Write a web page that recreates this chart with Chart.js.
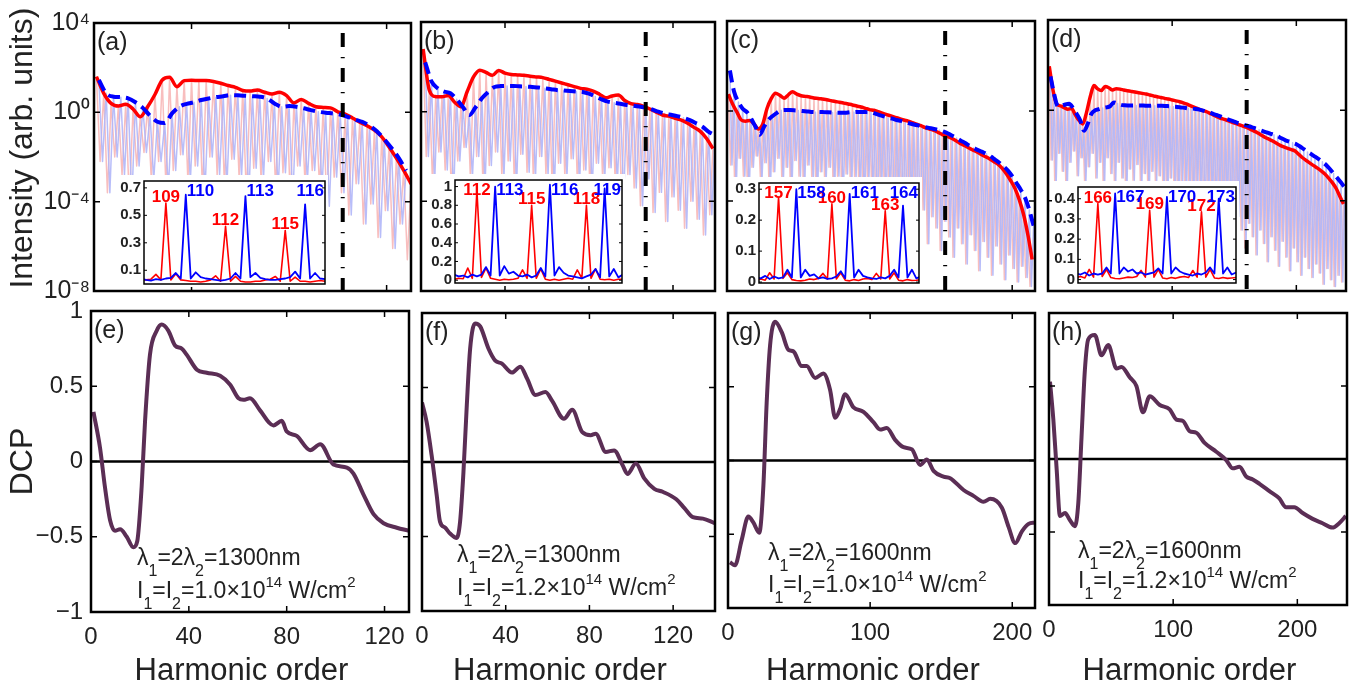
<!DOCTYPE html>
<html>
<head>
<meta charset="utf-8">
<title>HHG spectra and DCP</title>
<script src="https://cdn.jsdelivr.net/npm/chart.js@4.4.1/dist/chart.umd.min.js"></script>
<style>
  html, body { margin: 0; padding: 0; background: #fff; }
  body { position: relative; width: 1355px; height: 690px; overflow: hidden; }
  canvas { position: absolute; }
</style>
</head>
<body>
<script>
Chart.defaults.font.family = '"Liberation Sans", Arial, Helvetica, sans-serif';
Chart.defaults.color = '#222';

// ---- axes ----
const orderMax = [130, 140, 216, 240];
const orderTicks = [[0, 40, 80, 120], [0, 40, 80, 120], [0, 100, 200], [0, 100, 200]];
const intensityTicks = [1e-8, 1e-4, 1, 1e4];
const dcpTicks = [-1, -0.5, 0, 0.5, 1];

// cut-off order marked by the dash-dot line in (a)-(d)
const cutoffOrders = [102, 107, 153, 160];

// ---- spectra, log10 of the yield ----
// red harmonics sit at orders 1,4,7,... and blue ones at 2,5,8,...
// the floor arrays hold the level reached between neighbouring harmonics
const redA = [1.6, 0.85, 0.4, 0.28, 0.36, 0.15, -0.2, 0.25, 0.8, 1.45,
  1.57, 1.15, 1.42, 1.44, 1.42, 1.42, 1.38, 1.3, 1.2, 1.12,
  0.98, 0.95, 1.0, 0.9, 0.82, 0.9, 0.75, 0.42, 0.58, 0.4,
  0.25, 0.22, 0.2, 0.02, -0.08, -0.25, -0.44, -0.6, -0.8, -1.1,
  -1.55, -2.05, -2.6, -3.2];
const blueA = [1.45, 0.85, 0.7, 0.68, 0.63, 0.45, 0.2, -0.15, -0.42, -0.48,
  -0.05, 0.25, 0.38, 0.45, 0.55, 0.62, 0.68, 0.72, 0.77, 0.76,
  0.74, 0.72, 0.7, 0.62, 0.4, 0.25, 0.28, 0.25, 0.18, 0.1,
  0.03, -0.02, -0.05, -0.1, -0.2, -0.32, -0.43, -0.6, -0.85, -1.2,
  -1.6, -2.05, -2.6];
const floorA = [-2.2, -3.6, -2.0, -2.8, -4.0, -2.4, -1.8, -3.0, -2.2, -3.4,
  -2.6, -1.9, -3.1, -2.4, -3.6, -2.0, -2.8, -3.3, -2.1, -2.9,
  -3.8, -2.5, -3.0, -2.2, -3.5, -2.7, -3.9, -2.4, -3.1, -2.6,
  -3.4, -4.2, -2.9, -3.6, -4.6, -3.2, -5.0, -4.1, -5.6, -4.4,
  -6.1, -5.0, -6.6, -7.2];

const redB = [2.8, 0.95, 0.67, 0.66, 0.72, 0.42, 0.22, 0.9, 1.55, 1.85,
  1.75, 1.62, 1.84, 1.72, 1.66, 1.64, 1.62, 1.58, 1.55, 1.52,
  1.44, 1.36, 1.28, 1.2, 1.12, 1.04, 1.0, 0.92, 0.78, 0.62,
  0.7, 0.74, 0.5, 0.36, 0.32, 0.24, 0.12, -0.02, -0.15, -0.2,
  -0.3, -0.38, -0.52, -0.7, -0.88, -1.2, -1.65];
const blueB = [2.2, 1.35, 1.04, 0.9, 0.82, 0.55, 0.2, -0.15, 0.2, 0.6,
  0.88, 1.1, 1.14, 1.15, 1.15, 1.13, 1.12, 1.1, 1.08, 1.04,
  1.0, 0.96, 0.94, 0.92, 0.9, 0.88, 0.8, 0.68, 0.55, 0.45,
  0.4, 0.35, 0.3, 0.27, 0.23, 0.18, 0.1, 0.0, -0.08, -0.14,
  -0.2, -0.27, -0.38, -0.52, -0.67, -0.9, -1.05];
const floorB = [-2.0, -3.2, -1.8, -2.6, -3.8, -2.2, -1.6, -2.9, -2.0, -3.3,
  -2.4, -1.8, -2.9, -2.2, -3.4, -1.9, -2.7, -3.0, -2.0, -2.8,
  -3.5, -2.3, -2.9, -2.1, -3.3, -2.6, -3.7, -2.3, -3.0, -2.5,
  -3.2, -3.9, -2.8, -3.4, -4.2, -3.0, -4.5, -3.6, -4.9, -3.8,
  -4.4, -5.2, -4.0, -4.8, -5.5, -4.6, -5.0];

const redC = [0.75, 0.3, -0.05, -0.4, -0.45, -0.42, -0.58, -0.8, -0.6, 0.1,
  0.55, 0.79, 0.7, 0.57, 0.72, 0.86, 0.75, 0.68, 0.65, 0.62,
  0.58, 0.56, 0.53, 0.5, 0.46, 0.42, 0.39, 0.35, 0.31, 0.27,
  0.22, 0.18, 0.12, 0.06, 0.03, -0.03, -0.1, -0.16, -0.22, -0.28,
  -0.34, -0.4, -0.45, -0.52, -0.58, -0.65, -0.74, -0.8, -0.86, -0.95,
  -1.05, -1.12, -1.2, -1.3, -1.42, -1.52, -1.62, -1.72, -1.81, -1.92,
  -2.02, -2.12, -2.24, -2.36, -2.55, -2.8, -3.1, -3.45, -3.95, -4.6,
  -5.5, -6.6];
const blueC = [1.8, 0.85, 0.4, 0.1, -0.05, -0.35, -0.7, -1.05, -0.7, -0.4,
  -0.22, -0.08, 0.03, 0.05, 0.04, 0.03, 0.02, 0.0, -0.02, -0.04,
  -0.05, -0.04, -0.05, -0.06, -0.07, -0.08, -0.08, -0.08, -0.06, -0.05,
  -0.04, -0.04, -0.05, -0.06, -0.12, -0.18, -0.24, -0.3, -0.34, -0.4,
  -0.44, -0.5, -0.55, -0.6, -0.64, -0.69, -0.73, -0.77, -0.81, -0.85,
  -0.92, -1.0, -1.1, -1.2, -1.32, -1.42, -1.54, -1.64, -1.74, -1.82,
  -1.9, -2.02, -2.16, -2.3, -2.46, -2.65, -2.9, -3.2, -3.5, -3.85,
  -4.4, -5.1];
const floorC = [-2.4, -3.6, -2.1, -2.9, -3.9, -2.5, -2.0, -3.1, -2.3, -3.4,
  -2.7, -2.1, -3.2, -2.5, -3.7, -2.2, -2.9, -3.4, -2.4, -3.1,
  -3.9, -2.7, -3.2, -2.5, -3.6, -2.9, -4.1, -2.8, -3.3, -3.0,
  -3.6, -4.4, -3.1, -3.8, -4.9, -3.4, -4.2, -3.7, -5.1, -3.9,
  -4.5, -5.6, -4.1, -4.8, -5.3, -4.4, -5.9, -4.7, -5.2, -6.2,
  -4.9, -5.6, -6.5, -5.2, -5.9, -6.8, -5.5, -6.2, -7.1, -5.8,
  -6.5, -7.3, -6.0, -6.8, -7.5, -6.4, -7.0, -7.6, -6.9, -7.4,
  -7.8, -7.6];

const redD = [1.95, 0.9, 0.28, 0.2, 0.12, 0.05, 0.08, -0.2, -0.45, -0.6,
  -0.1, 0.6, 1.1, 0.95, 0.88, 1.05, 1.0, 0.9, 0.96, 0.94,
  0.9, 0.87, 0.84, 0.81, 0.78, 0.75, 0.72, 0.68, 0.64, 0.6,
  0.57, 0.53, 0.5, 0.46, 0.42, 0.38, 0.33, 0.27, 0.2, 0.13,
  0.06, 0.0, -0.05, -0.12, -0.2, -0.28, -0.35, -0.4, -0.46, -0.52,
  -0.58, -0.64, -0.7, -0.76, -0.84, -0.92, -1.0, -1.1, -1.2, -1.28,
  -1.36, -1.46, -1.55, -1.62, -1.68, -1.74, -1.8, -1.95, -2.1, -2.22,
  -2.34, -2.45, -2.56, -2.68, -2.82, -3.0, -3.2, -3.45, -3.8, -4.15];
const blueD = [1.5, 0.7, 0.18, 0.2, 0.26, 0.29, 0.12, -0.15, -0.45, -0.9,
  -0.6, -0.15, 0.0, 0.05, 0.1, 0.13, 0.18, 0.35, 0.3, 0.24,
  0.22, 0.21, 0.21, 0.21, 0.21, 0.21, 0.2, 0.2, 0.2, 0.2,
  0.2, 0.19, 0.18, 0.16, 0.15, 0.13, 0.11, 0.09, 0.08, 0.06,
  0.03, -0.01, -0.06, -0.11, -0.18, -0.23, -0.3, -0.36, -0.42, -0.48,
  -0.54, -0.59, -0.64, -0.69, -0.74, -0.8, -0.86, -0.92, -0.98, -1.03,
  -1.08, -1.15, -1.24, -1.32, -1.38, -1.44, -1.5, -1.6, -1.72, -1.84,
  -1.94, -2.05, -2.16, -2.28, -2.42, -2.6, -2.8, -3.0, -3.2, -3.42];
const floorD = [-2.2, -3.4, -1.9, -2.7, -3.6, -2.3, -1.8, -2.9, -2.1, -3.2,
  -2.5, -1.9, -3.0, -2.3, -3.5, -2.1, -2.8, -3.3, -2.3, -3.0,
  -3.7, -2.6, -3.1, -2.4, -3.5, -2.8, -3.9, -2.7, -3.2, -2.9,
  -3.5, -4.2, -3.0, -3.7, -4.6, -3.3, -4.0, -3.6, -4.8, -3.8,
  -4.3, -5.2, -4.0, -4.6, -5.0, -4.2, -5.5, -4.5, -5.0, -5.8,
  -4.7, -5.3, -6.1, -5.0, -5.6, -6.4, -5.3, -5.9, -6.7, -5.6,
  -6.2, -6.9, -5.8, -6.5, -7.1, -6.1, -6.7, -7.3, -6.5, -7.0,
  -7.4, -6.8, -7.2, -7.7, -7.0, -7.5, -7.8, -7.3, -7.6, -7.9];

// ---- insets: linear yield sampled every 0.25 order ----
const insetStart = [107.75, 110.75, 155.75, 164.75];
const insetRange = [[107.9, 117], [110.8, 119.95], [155.9, 164.9], [164.85, 174]];
const insetYRange = [[0, 0.75], [-0.03, 1.07], [-0.003, 0.32], [-0.017, 0.458]];
const insetTicks = [[0.1, 0.3, 0.5, 0.7], [0, 0.2, 0.4, 0.6, 0.8, 1], [0, 0.1, 0.2, 0.3], [0, 0.1, 0.2, 0.3, 0.4]];
const insetRedPeaks = [[109, 112, 115], [112, 115, 118], [157, 160, 163], [166, 169, 172]];
const insetBluePeaks = [[110, 113, 116], [113, 116, 119], [158, 161, 164], [167, 170, 173]];
const insetRed = [
  [.03, .03, .035, .07, .03, .59, .03, .075, .03, .025, .02, .02, .015, .02, .03, .06, .02, .42, .02, .055,
   .02, .015, .015, .02, .02, .03, .035, .055, .02, .39, .02, .05, .02, .02, .015, .02, .025, .02],
  [.01, .02, .015, .13, .02, .96, .03, .13, .02, .01, .0, .01, .005, .01, .02, .11, .02, .80, .02, .12,
   .01, .0, .01, .0, .01, .02, .01, .11, .02, .80, .02, .12, .01, .005, .01, .0, .01, .01],
  [.008, .01, .006, .03, .01, .274, .012, .03, .008, .005, .004, .006, .01, .008, .012, .028, .01, .253, .01, .03,
   .006, .004, .008, .005, .01, .012, .008, .028, .01, .23, .01, .03, .006, .004, .008, .005, .006, .008],
  [.01, .015, .008, .05, .012, .376, .015, .05, .01, .005, .004, .008, .012, .01, .015, .045, .012, .343, .012, .05,
   .008, .004, .01, .006, .012, .015, .01, .045, .012, .335, .012, .05, .008, .005, .01, .006, .008, .01]
];
const insetBlue = [
  [.04, .03, .025, .035, .03, .04, .045, .08, .04, .65, .04, .085, .05, .04, .035, .03, .025, .03, .04, .08,
   .04, .64, .05, .08, .045, .035, .03, .03, .035, .04, .05, .09, .04, .58, .04, .08, .04, .035],
  [.06, .04, .05, .03, .06, .04, .06, .14, .05, 1.0, .05, .15, .07, .09, .05, .04, .06, .03, .05, .13,
   .04, 1.02, .05, .14, .08, .05, .04, .03, .02, .04, .06, .12, .03, .98, .04, .12, .03, .06],
  [.015, .012, .02, .01, .018, .012, .015, .04, .015, .30, .015, .04, .02, .025, .012, .015, .01, .012, .018, .035,
   .012, .285, .015, .04, .02, .015, .012, .01, .015, .012, .02, .04, .015, .247, .015, .04, .012, .018],
  [.03, .025, .035, .02, .03, .025, .03, .06, .03, .426, .03, .06, .04, .05, .03, .035, .025, .03, .035, .055,
   .03, .409, .03, .06, .04, .03, .025, .02, .03, .025, .035, .06, .03, .40, .03, .06, .025, .035]
];

// ---- degree of circular polarization, [order, DCP] ----
const dcpE = [[1, 0.33], [3.7, 0.09], [5.7, -0.17], [7.8, -0.39], [9.8, -0.46], [11.9, -0.45], [14.6, -0.5],
  [17.3, -0.57], [18.9, -0.53], [20.7, -0.17], [22.1, 0.27], [24.1, 0.71], [26.9, 0.87], [28.9, 0.91],
  [31.6, 0.87], [34.4, 0.77], [37.1, 0.75], [39.1, 0.71], [43.3, 0.61], [47.3, 0.59], [52.8, 0.57],
  [56.9, 0.51], [60.3, 0.42], [62.3, 0.41], [65, 0.42], [69.1, 0.34], [74.6, 0.24], [78, 0.27], [80, 0.2],
  [84.1, 0.17], [89.6, 0.075], [93.7, 0.115], [99.1, -0.02], [104.6, -0.04], [107.3, -0.08], [111.4, -0.22],
  [115.5, -0.35], [119.6, -0.41], [125, -0.44], [130, -0.46]];
const dcpF = [[0, 0.40], [2.2, 0.27], [4.6, 0.045], [7, -0.22], [8.6, -0.40], [11, -0.44], [13.4, -0.48],
  [16.6, -0.51], [18.2, -0.4], [19.8, -0.07], [21.4, 0.38], [23, 0.76], [25.4, 0.93], [27.8, 0.91],
  [31.8, 0.76], [35, 0.68], [38.2, 0.66], [43, 0.6], [47, 0.64], [50.2, 0.56], [54.2, 0.45], [59, 0.47],
  [62.2, 0.41], [67.8, 0.29], [71.8, 0.35], [76.6, 0.2], [80.6, 0.18], [83, 0.19], [87.8, 0.067],
  [91.8, 0.078], [95.8, -0.02], [98.2, -0.08], [102.2, -0.01], [106.2, -0.11], [111, -0.18], [115, -0.2],
  [121.5, -0.25], [125.4, -0.31], [129.4, -0.37], [134.2, -0.38], [139.8, -0.41]];
const dcpG = [[1.4, -0.69], [4.9, -0.71], [9.6, -0.54], [14.3, -0.38], [17.8, -0.42], [22, -0.49], [24.9, -0.17],
  [27.2, 0.39], [29.6, 0.78], [33.1, 0.94], [37.8, 0.87], [42.5, 0.75], [46, 0.74], [51.9, 0.64], [55.4, 0.64],
  [61.3, 0.56], [67.1, 0.59], [71.8, 0.48], [75.4, 0.29], [78.9, 0.35], [82.4, 0.45], [88.3, 0.36],
  [95.3, 0.33], [102.3, 0.26], [107, 0.21], [111.7, 0.22], [117.6, 0.14], [123.5, 0.09], [129.4, 0.075],
  [135.2, -0.03], [139.9, 0.007], [144.6, -0.07], [151.6, -0.11], [156.3, -0.12], [165.7, -0.2],
  [172.7, -0.24], [179.8, -0.28], [184.5, -0.26], [192.7, -0.32], [197.4, -0.45], [202.1, -0.56],
  [206.8, -0.48], [211.5, -0.43], [216, -0.42]];
const dcpH = [[0.8, 0.53], [3.5, 0.27], [6.2, -0.075], [8.8, -0.39], [12.9, -0.37], [16.9, -0.42], [20.9, -0.46],
  [23.6, -0.3], [26.2, 0.15], [28.9, 0.61], [31.6, 0.82], [36.9, 0.85], [42.3, 0.71], [47.7, 0.78],
  [54.4, 0.62], [58.4, 0.63], [65, 0.56], [70.4, 0.5], [75.7, 0.32], [81.1, 0.43], [89.2, 0.37],
  [97.2, 0.34], [102.6, 0.27], [107.9, 0.26], [113.3, 0.19], [118.6, 0.18], [125.3, 0.11], [134.7, 0.05],
  [142.7, -0.007], [148, -0.064], [153.4, -0.053], [158.8, -0.12], [164.1, -0.14], [169.5, -0.17],
  [177.5, -0.22], [185.5, -0.27], [190.9, -0.33], [197.6, -0.33], [204.3, -0.37], [212.3, -0.41],
  [220.3, -0.44], [228.3, -0.47], [233.7, -0.44], [239.1, -0.39]];

// laser parameters written in (e)-(h)
const wavelengths = ['1300', '1300', '1600', '1600'];
const intensities = ['1.0', '1.2', '1.0', '1.2'];

// ---- layout ----
const topBoxes = [
  { l: 94, t: 23, r: 411, b: 291 }, { l: 421, t: 22, r: 715, b: 291 },
  { l: 727, t: 21, r: 1035, b: 291 }, { l: 1048, t: 20, r: 1346, b: 291 }
];
const bottomBoxes = [
  { l: 91, t: 311, r: 409, b: 612 }, { l: 422, t: 313, r: 715, b: 611 },
  { l: 728, t: 313, r: 1035, b: 608 }, { l: 1049, t: 313, r: 1347, b: 605 }
];
const insetBoxes = [
  { l: 144, t: 181, r: 325, b: 284 }, { l: 455, t: 180, r: 622, b: 283 },
  { l: 759, t: 183, r: 919, b: 283 }, { l: 1078, t: 187, r: 1236, b: 283 }
];
const noteSpots = [
  { dx: 46, y1: -47, y2: -14 }, { dx: 35, y1: -49, y2: -16 },
  { dx: 40, y1: -48, y2: -16 }, { dx: 29, y1: -47, y2: -17 }
];
const topTags = ['(a)', '(b)', '(c)', '(d)'];
const bottomTags = ['(e)', '(f)', '(g)', '(h)'];

const FONT = '"Liberation Sans", Arial, Helvetica, sans-serif';
const SUP = { '-': '\u207b', '0': '\u2070', '1': '\u00b9', '2': '\u00b2', '3': '\u00b3', '4': '\u2074',
  '5': '\u2075', '6': '\u2076', '7': '\u2077', '8': '\u2078', '9': '\u2079' };
const powerOfTen = v => '10' + String(Math.round(Math.log10(v))).split('').map(c => SUP[c]).join('');
const signed = v => String(v).replace('-', '\u2212');

function addCanvas(x, y, w, h) {
  const c = document.createElement('canvas');
  c.width = w; c.height = h;
  Object.assign(c.style, { left: x + 'px', top: y + 'px', width: w + 'px', height: h + 'px' });
  document.body.appendChild(c);
  return c;
}

// one point per harmonic of a colour
function harmonicPoints(levels, first) {
  return levels.map((lv, i) => ({ x: first + 3 * i, y: Math.pow(10, lv) }));
}
// harmonic peaks joined through the floor between them
function spikePoints(levels, floor, first) {
  const pts = [];
  levels.forEach((lv, i) => {
    pts.push({ x: first + 3 * i, y: Math.pow(10, lv) });
    if (i < floor.length && i < levels.length - 1) pts.push({ x: first + 3 * i + 1.5, y: Math.pow(10, floor[i]) });
  });
  return pts;
}
const sampled = (vals, start) => vals.map((v, k) => ({ x: start + k * 0.25, y: v }));
const pairs = arr => arr.map(([x, y]) => ({ x, y }));

// box, inward ticks and panel letter
function frame(o) {
  return {
    id: 'frame',
    beforeDraw(chart) {
      if (!o.backdrop) return;
      const a = chart.chartArea, ctx = chart.ctx, [l, t, r, b] = o.backdrop;
      ctx.save();
      ctx.fillStyle = '#fff';
      ctx.fillRect(a.left - l, a.top - t, a.right - a.left + l + r, a.bottom - a.top + t + b);
      ctx.restore();
    },
    afterDatasetsDraw(chart) {
      const { ctx, chartArea: a, scales: { x, y } } = chart;
      ctx.save();
      ctx.strokeStyle = '#000';
      ctx.lineWidth = o.tickWidth;
      ctx.beginPath();
      if (o.xTicks) x.ticks.forEach(t => {
        const p = x.getPixelForValue(t.value);
        ctx.moveTo(p, a.top); ctx.lineTo(p, a.top + o.tick);
        ctx.moveTo(p, a.bottom); ctx.lineTo(p, a.bottom - o.tick);
      });
      y.ticks.forEach(t => {
        const p = y.getPixelForValue(t.value);
        ctx.moveTo(a.left, p); ctx.lineTo(a.left + o.tick, p);
        ctx.moveTo(a.right, p); ctx.lineTo(a.right - o.tick, p);
      });
      ctx.stroke();
      ctx.lineWidth = o.width;
      ctx.strokeRect(a.left, a.top, a.right - a.left, a.bottom - a.top);
      if (o.tag) {
        ctx.fillStyle = '#222';
        ctx.font = '25px ' + FONT;
        ctx.textAlign = 'left';
        ctx.textBaseline = 'alphabetic';
        ctx.fillText(o.tag, a.left + 3, a.top + 27);
      }
      ctx.restore();
    }
  };
}

// dash-dot marker at the cut-off order
function cutoff(order) {
  return {
    id: 'cutoff',
    afterDatasetsDraw(chart) {
      const { ctx, chartArea: a, scales: { x } } = chart;
      const p = x.getPixelForValue(order);
      ctx.save();
      ctx.strokeStyle = '#000';
      ctx.lineWidth = 4;
      ctx.setLineDash([14, 10, 1.3, 9.7]);
      ctx.beginPath();
      ctx.moveTo(p, a.top + 10);
      ctx.lineTo(p, a.bottom);
      ctx.stroke();
      ctx.restore();
    }
  };
}

// order numbers over the inset peaks
function peakTags(start, red, redPeaks, bluePeaks) {
  return {
    id: 'peakTags',
    afterDatasetsDraw(chart) {
      const { ctx, chartArea: a, scales: { x, y } } = chart;
      const top = a.top + 15;
      ctx.save();
      ctx.font = 'bold 17px ' + FONT;
      ctx.textBaseline = 'alphabetic';
      redPeaks.forEach(n => {
        const v = red[Math.round((n - start) / 0.25)];
        ctx.fillStyle = '#ff0000';
        ctx.textAlign = 'center';
        ctx.fillText(String(n), x.getPixelForValue(n), Math.max(top, y.getPixelForValue(v) - 1));
      });
      bluePeaks.forEach(n => {
        const w = ctx.measureText(String(n)).width;
        ctx.fillStyle = '#0000ff';
        ctx.textAlign = 'left';
        ctx.fillText(String(n), Math.min(x.getPixelForValue(n) + 1, a.right - 1 - w), top);
      });
      ctx.restore();
    }
  };
}

function rich(ctx, x, y, parts) {
  parts.forEach(([text, kind]) => {
    const size = kind === 'sub' ? 16 : kind === 'sup' ? 15 : 23;
    const dy = kind === 'sub' ? 11 : kind === 'sup' ? -11 : 0;
    ctx.font = size + 'px ' + FONT;
    ctx.fillText(text, x, y + dy);
    x += ctx.measureText(text).width;
  });
}

function note(wl, inten, spot) {
  return {
    id: 'note',
    afterDatasetsDraw(chart) {
      const { ctx, chartArea: a } = chart;
      ctx.save();
      ctx.fillStyle = '#222';
      ctx.textAlign = 'left';
      ctx.textBaseline = 'alphabetic';
      rich(ctx, a.left + spot.dx, a.bottom + spot.y1,
        [['\u03bb'], ['1', 'sub'], ['=2\u03bb'], ['2', 'sub'], ['=' + wl + 'nm']]);
      rich(ctx, a.left + spot.dx, a.bottom + spot.y2,
        [['I'], ['1', 'sub'], ['=I'], ['2', 'sub'], ['=' + inten + '\u00d710'], ['14', 'sup'], [' W/cm'], ['2', 'sup']]);
      ctx.restore();
    }
  };
}

function makeChart(o) {
  const bw = o.box.r - o.box.l, bh = o.box.b - o.box.t;
  const canvas = addCanvas(o.box.l - o.axL - o.padL, o.box.t - o.padT,
    o.axL + o.padL + bw + o.padR, o.padT + bh + o.axB);
  const scale = (s, fit) => ({
    type: s.type || 'linear',
    min: s.min, max: s.max,
    afterBuildTicks: sc => { sc.ticks = s.ticks.map(v => ({ value: v })); },
    afterFit: fit,
    grid: { display: false, drawTicks: false },
    border: { display: false },
    ticks: {
      display: !!s.labels, autoSkip: false, maxRotation: 0, padding: s.pad || 0,
      font: s.font || { size: 24 }, color: '#222', callback: s.format || (v => String(v))
    },
    title: s.title
      ? { display: true, text: s.title, font: { size: s.titleSize }, color: '#222', padding: 0 }
      : { display: false }
  });
  return new Chart(canvas, {
    type: 'line',
    data: { datasets: o.datasets },
    options: {
      responsive: false, animation: false, devicePixelRatio: 1, events: [],
      layout: { padding: { left: o.padL, top: o.padT, right: o.padR, bottom: 0 } },
      plugins: { legend: { display: false }, tooltip: { enabled: false } },
      elements: { point: { radius: 0 }, line: { borderJoinStyle: 'round' } },
      scales: {
        x: scale(o.x, sc => { sc.height = o.axB; }),
        y: scale(o.y, sc => { sc.width = o.axL; })
      }
    },
    plugins: o.plugins
  });
}

// ---- (a)-(d): harmonic spectra ----
const spectra = [
  { red: redA, blue: blueA, floor: floorA }, { red: redB, blue: blueB, floor: floorB },
  { red: redC, blue: blueC, floor: floorC }, { red: redD, blue: blueD, floor: floorD }
];
spectra.forEach((s, i) => {
  const first = i === 0;
  const box = topBoxes[i];
  makeChart({
    box, axL: first ? box.l - 4 : 0, padL: first ? 4 : 24, padT: 28, padR: 4, axB: 24,
    x: { min: 0, max: orderMax[i], ticks: orderTicks[i] },
    y: {
      type: 'logarithmic', min: 1e-8, max: 1e4, ticks: intensityTicks, labels: first, pad: 4,
      font: { size: 25 }, format: powerOfTen,
      title: first ? '  Intensity (arb. units)' : null, titleSize: 32
    },
    datasets: [
      { data: harmonicPoints(s.blue, 2), borderColor: '#0000ff', borderWidth: 4, borderDash: [12, 6],
        cubicInterpolationMode: 'monotone' },
      { data: harmonicPoints(s.red, 1), borderColor: '#ff0000', borderWidth: 3.5,
        cubicInterpolationMode: 'monotone' },
      { data: spikePoints(s.blue, s.floor, 2), borderColor: 'rgba(176,182,248,0.9)', borderWidth: 1.5 },
      { data: spikePoints(s.red, s.floor, 1), borderColor: 'rgb(248,190,190)', borderWidth: 1.5 }
    ],
    plugins: [cutoff(cutoffOrders[i]),
      frame({ tag: topTags[i], tick: 6, tickWidth: 1.5, width: 2.5, xTicks: true })]
  });
});

// ---- (e)-(h): DCP ----
[dcpE, dcpF, dcpG, dcpH].forEach((d, i) => {
  const first = i === 0;
  const box = bottomBoxes[i];
  makeChart({
    box, axL: first ? box.l - 4 : 0, padL: first ? 4 : 24, padT: 26, padR: 12, axB: 690 - box.b,
    x: { min: 0, max: orderMax[i], ticks: orderTicks[i], labels: true, pad: 11,
      title: 'Harmonic order  ', titleSize: 31 },
    y: { min: -1, max: 1, ticks: dcpTicks, labels: first, pad: 8, format: signed,
      title: first ? 'DCP' : null, titleSize: 32 },
    datasets: [
      { data: pairs(d), borderColor: '#5b2e55', borderWidth: 4, cubicInterpolationMode: 'monotone' },
      { data: [{ x: 0, y: 0 }, { x: orderMax[i], y: 0 }], borderColor: '#000', borderWidth: 2.5 }
    ],
    plugins: [note(wavelengths[i], intensities[i], noteSpots[i]),
      frame({ tag: bottomTags[i], tick: 6, tickWidth: 1.5, width: 2.5, xTicks: true })]
  });
});

// ---- insets ----
insetBoxes.forEach((box, i) => {
  makeChart({
    box, axL: 30, padL: 2, padT: 14, padR: 4, axB: 14,
    x: { min: insetRange[i][0], max: insetRange[i][1], ticks: insetRedPeaks[i] },
    y: { min: insetYRange[i][0], max: insetYRange[i][1], ticks: insetTicks[i], labels: true, pad: 3,
      font: { size: 15, weight: 'bold' } },
    datasets: [
      { data: sampled(insetBlue[i], insetStart[i]), borderColor: '#0000ff', borderWidth: 1.8 },
      { data: sampled(insetRed[i], insetStart[i]), borderColor: '#ff0000', borderWidth: 1.6 }
    ],
    plugins: [frame({ backdrop: [26, 6, 3, 3], tick: 3, tickWidth: 1, width: 1.5, xTicks: false }),
      peakTags(insetStart[i], insetRed[i], insetRedPeaks[i], insetBluePeaks[i])]
  });
});
</script>
</body>
</html>
